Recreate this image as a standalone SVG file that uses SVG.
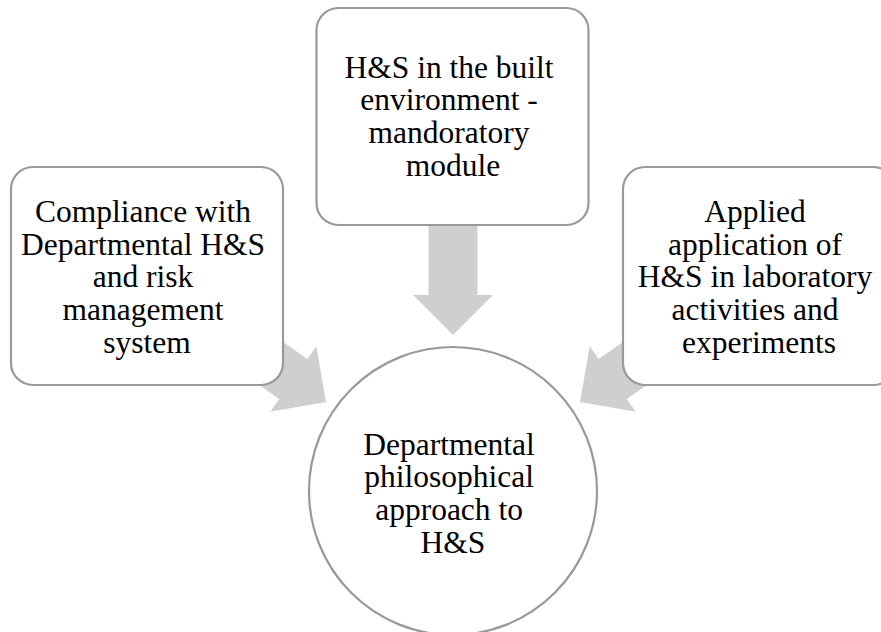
<svg xmlns="http://www.w3.org/2000/svg" width="881" height="632" viewBox="0 0 881 632">
<style>
.arrow{fill:#cfcfcf;stroke:none}
.box{fill:#ffffff;stroke:#999999;stroke-width:2.2}
.lbl{font-family:"Liberation Serif","Times New Roman",serif;font-size:31.5px;fill:#000000;text-anchor:middle}
</style>
<defs>
<polygon id="arr" points="0,0 -40,-40 -40,-24.5 -120,-24.5 -120,24.5 -40,24.5 -40,40"/>
</defs>
<rect width="881" height="632" fill="#ffffff"/>
<g id="connectors">
<use href="#arr" class="arrow" transform="translate(326,402) rotate(35.1)"/>
<use href="#arr" class="arrow" transform="translate(453,335) rotate(90)"/>
<use href="#arr" class="arrow" transform="translate(580,402) rotate(144.9)"/>
</g>
<g id="node-left">
<rect class="box" x="11" y="167" width="272" height="218" rx="22" ry="22"/>
<text class="lbl">
<tspan x="147" y="222">Compliance with</tspan>
<tspan x="147" y="254.7">Departmental H&amp;S</tspan>
<tspan x="147" y="287.4">and risk</tspan>
<tspan x="147" y="320.1">management</tspan>
<tspan x="147" y="352.8">system</tspan>
</text>
</g>
<g id="node-top">
<rect class="box" x="316.5" y="8" width="272" height="217" rx="22" ry="22"/>
<text class="lbl">
<tspan x="453" y="77.5">H&amp;S in the built</tspan>
<tspan x="453" y="110.2">environment -</tspan>
<tspan x="453" y="142.9">mandoratory</tspan>
<tspan x="453" y="175.6">module</tspan>
</text>
</g>
<g id="node-right">
<rect class="box" x="623" y="167" width="272" height="218" rx="22" ry="22"/>
<text class="lbl">
<tspan x="759" y="222">Applied</tspan>
<tspan x="759" y="254.7">application of</tspan>
<tspan x="759" y="287.4">H&amp;S in laboratory</tspan>
<tspan x="759" y="320.1">activities and</tspan>
<tspan x="759" y="352.8">experiments</tspan>
</text>
</g>
<g id="node-center">
<circle class="box" cx="453" cy="491" r="144"/>
<text class="lbl">
<tspan x="453" y="454.5">Departmental</tspan>
<tspan x="453" y="487.2">philosophical</tspan>
<tspan x="453" y="519.9">approach to</tspan>
<tspan x="453" y="552.6">H&amp;S</tspan>
</text>
</g>
</svg>
